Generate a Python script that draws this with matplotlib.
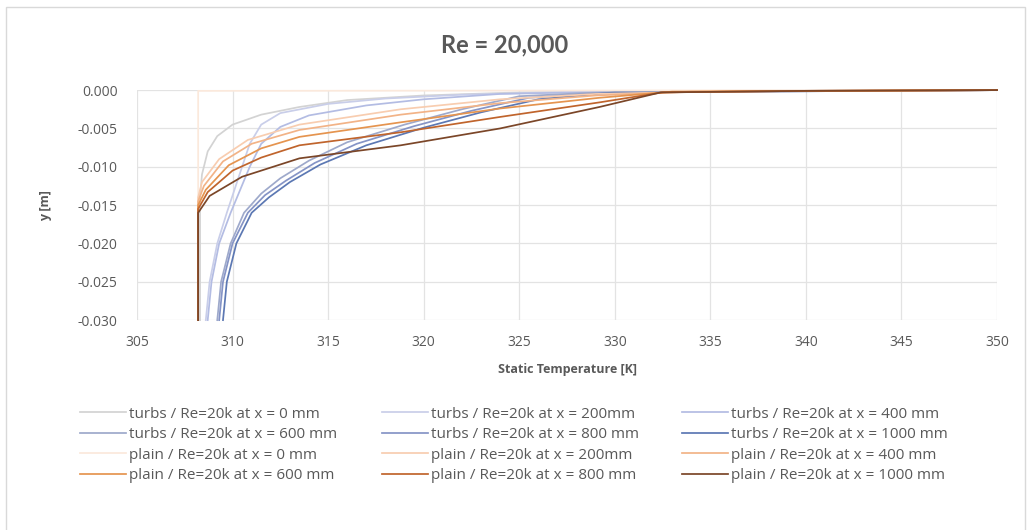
import matplotlib
matplotlib.use("Agg")
import matplotlib.pyplot as plt
from matplotlib.patches import Rectangle

# temperature [K] / wall-normal coordinate y [m]
turbs_0_T = [308.3, 308.3, 308.4, 308.7, 309.2, 310.0, 311.5, 313.5, 316.0, 320.0, 325.0, 335.0, 350.0]
turbs_0_y = [-0.030, -0.014, -0.011, -0.008, -0.006, -0.0045, -0.0032, -0.0022, -0.0013, -0.0007, -0.0003, -0.0001, 0.0]
turbs_200_T = [308.6, 308.8, 309.2, 309.7, 310.1, 310.5, 310.9, 311.5, 312.5, 315.0, 318.0, 322.0, 328.0, 350.0]
turbs_200_y = [-0.030, -0.025, -0.020, -0.016, -0.013, -0.010, -0.007, -0.0045, -0.003, -0.0018, -0.0011, -0.0006, -0.0002, 0.0]
turbs_400_T = [308.7, 308.9, 309.3, 309.9, 310.4, 310.9, 311.5, 312.5, 314.0, 317.0, 320.0, 324.0, 330.0, 350.0]
turbs_400_y = [-0.030, -0.025, -0.020, -0.016, -0.013, -0.010, -0.007, -0.0048, -0.0033, -0.002, -0.0012, -0.0005, -0.0002, 0.0]
turbs_600_T = [309.2, 309.4, 309.9, 310.6, 311.5, 312.5, 314.0, 316.0, 319.0, 322.0, 325.0, 330.0, 350.0]
turbs_600_y = [-0.030, -0.025, -0.020, -0.016, -0.0135, -0.0115, -0.0092, -0.0068, -0.0045, -0.0025, -0.0008, -0.0002, 0.0]
turbs_800_T = [309.3, 309.5, 310.0, 310.8, 311.7, 312.8, 314.3, 316.5, 319.5, 322.5, 325.5, 330.0, 350.0]
turbs_800_y = [-0.030, -0.025, -0.020, -0.016, -0.0137, -0.0118, -0.0095, -0.0070, -0.0047, -0.0027, -0.0010, -0.0003, 0.0]
turbs_1000_T = [309.5, 309.7, 310.2, 311.0, 311.9, 313.0, 314.6, 317.0, 320.0, 323.0, 326.0, 330.0, 350.0]
turbs_1000_y = [-0.030, -0.025, -0.020, -0.016, -0.014, -0.012, -0.0097, -0.0072, -0.0049, -0.0029, -0.0012, -0.0003, 0.0]

plain_0_T = [308.2, 308.2, 350.0]
plain_0_y = [-0.030, -0.0001, 0.0]
plain_200_T = [308.2, 308.2, 308.4, 309.3, 310.8, 313.5, 318.8, 324.0, 329.0, 335.0, 350.0]
plain_200_y = [-0.030, -0.014, -0.012, -0.009, -0.0065, -0.0045, -0.0025, -0.0012, -0.0005, -0.0002, 0.0]
plain_400_T = [308.2, 308.2, 308.5, 309.5, 311.0, 313.5, 318.8, 324.0, 329.0, 334.0, 350.0]
plain_400_y = [-0.030, -0.0145, -0.0125, -0.0093, -0.0070, -0.0052, -0.0032, -0.0017, -0.0007, -0.0002, 0.0]
plain_600_T = [308.2, 308.2, 308.6, 309.8, 311.5, 313.5, 318.8, 324.0, 329.2, 333.0, 340.0, 350.0]
plain_600_y = [-0.030, -0.015, -0.013, -0.0098, -0.0076, -0.0061, -0.0042, -0.0024, -0.0010, -0.0002, -0.0001, 0.0]
plain_800_T = [308.2, 308.2, 308.7, 310.0, 311.5, 313.5, 318.8, 324.0, 329.2, 332.5, 340.0, 350.0]
plain_800_y = [-0.030, -0.0155, -0.0133, -0.0105, -0.0088, -0.0072, -0.0055, -0.0035, -0.0016, -0.0003, -0.0001, 0.0]
plain_1000_T = [308.2, 308.2, 308.8, 310.5, 313.5, 318.8, 324.0, 329.2, 332.4, 340.0, 350.0]
plain_1000_y = [-0.030, -0.016, -0.0138, -0.0113, -0.0089, -0.0072, -0.0050, -0.0022, -0.0003, -0.0001, 0.0]

labels = [
    "turbs / Re=20k at x = 0 mm", "turbs / Re=20k at x = 200mm", "turbs / Re=20k at x = 400 mm",
    "turbs / Re=20k at x = 600 mm", "turbs / Re=20k at x = 800 mm", "turbs / Re=20k at x = 1000 mm",
    "plain / Re=20k at x = 0 mm", "plain / Re=20k at x = 200mm", "plain / Re=20k at x = 400 mm",
    "plain / Re=20k at x = 600 mm", "plain / Re=20k at x = 800 mm", "plain / Re=20k at x = 1000 mm",
]
colors = [
    "#d3d3d3", "#c9cee9", "#b3bce3", "#9ea9cb", "#8594c6", "#5c78b3",
    "#fbe9dc", "#f8cdb0", "#f2b387", "#e5944f", "#c0642c", "#7b4628",
]
series = [
    (turbs_0_T, turbs_0_y), (turbs_200_T, turbs_200_y), (turbs_400_T, turbs_400_y),
    (turbs_600_T, turbs_600_y), (turbs_800_T, turbs_800_y), (turbs_1000_T, turbs_1000_y),
    (plain_0_T, plain_0_y), (plain_200_T, plain_200_y), (plain_400_T, plain_400_y),
    (plain_600_T, plain_600_y), (plain_800_T, plain_800_y), (plain_1000_T, plain_1000_y),
]

txt = "#595959"
plt.rcParams["font.family"] = ["Open Sans", "DejaVu Sans"]

fig = plt.figure(figsize=(10.3, 5.3), dpi=100)
ax = fig.add_axes([0.133, 0.396, 0.835, 0.434])

handles = []
for (T, y), c, lab in zip(series, colors, labels):
    h, = ax.plot(T, y, color=c, lw=1.25, label=lab, clip_on=False)
    handles.append(h)

ax.set_xlim(305, 350)
ax.set_ylim(-0.030, 0.0)
ax.set_xticks(range(305, 351, 5))
ax.set_yticks([-0.030, -0.025, -0.020, -0.015, -0.010, -0.005, 0.0])
ax.yaxis.set_major_formatter(matplotlib.ticker.FormatStrFormatter("%.3f"))
ax.grid(True, color="#e3e3e3", lw=0.9)
ax.set_axisbelow(True)
for s in ax.spines.values():
    s.set_visible(False)
ax.tick_params(length=0, labelsize=10, colors=txt)
ax.tick_params(axis="y", pad=14)
ax.tick_params(axis="x", pad=11)

ax.set_xlabel("Static Temperature [K]", fontsize=9, fontweight="bold", color=txt, labelpad=9)
ax.set_ylabel("y [m]", fontsize=9, fontweight="bold", color=txt, labelpad=18)
fig.text(0.49, 0.915, "Re = 20,000", ha="center", va="center", fontsize=17,
         fontweight="bold", color=txt, family=["Lato", "DejaVu Sans"])

# legend: three columns placed separately, row-major order like the source
col_x = [0.078, 0.371, 0.662]
for j in range(3):
    idx = [j, j + 3, j + 6, j + 9]
    fig.legend([handles[i] for i in idx], [labels[i] for i in idx],
               loc="upper left", bbox_to_anchor=(col_x[j], 0.233), frameon=False,
               fontsize=11, labelcolor=txt, handlelength=3.0, handletextpad=0.2,
               labelspacing=0.37, borderpad=0, borderaxespad=0)

fig.patches.append(Rectangle((0.006, -0.01), 0.989, 0.997, transform=fig.transFigure,
                             fill=False, edgecolor="#d9d9d9", lw=1))

fig.savefig("out.png", dpi=100)
